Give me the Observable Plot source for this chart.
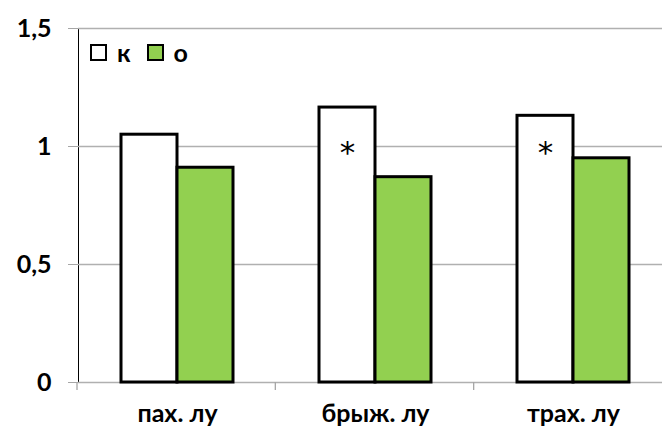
<!DOCTYPE html>
<html><head><meta charset="utf-8">
<script src="https://cdn.jsdelivr.net/npm/d3@7"></script>
<script src="https://cdn.jsdelivr.net/npm/@observablehq/plot@0.6"></script>
<style>
html,body{margin:0;padding:0;background:#fff;overflow:hidden}
#chart{position:relative;width:662px;height:433px;font-family:Lato,sans-serif}
#chart svg{overflow:hidden;display:block}
#chart svg [aria-label^="y-axis"] line,#chart svg [aria-label^="y-axis"] path{stroke:#a6a6a6}
.legend{position:absolute;left:90px;top:37px;display:flex;align-items:center;font:bold 25px Lato,sans-serif;color:#000}
.legend .item{display:flex;align-items:center;margin-right:16px}
.legend .sw{width:13px;height:13px;border:2.7px solid #000;display:inline-block;margin-right:10px}
</style></head><body><div id="chart"></div>
<script>
const categories = ["пах. лу", "брыж. лу", "трах. лу"];
const seriesNames = ["к", "о"];
const valuesK = [1.05, 1.165, 1.13];
const valuesO = [0.91, 0.87, 0.95];
const stars = ["", "*", "*"];
const starLevel = [null, 0.99, 0.99];
const yTicks = [0, 0.5, 1, 1.5];
const colors = ["#ffffff", "#92d050"];

const data = [];
categories.forEach((c, i) => {
  data.push({cat: c, series: seriesNames[0], value: valuesK[i], star: stars[i], starY: starLevel[i]});
  data.push({cat: c, series: seriesNames[1], value: valuesO[i], star: "", starY: null});
});

const plot = Plot.plot({
  width: 662,
  height: 433,
  marginTop: 28,
  marginBottom: 51,
  marginLeft: 77,
  marginRight: -10,
  style: {fontFamily: "Lato, sans-serif", fontSize: "25px", fontWeight: "bold", color: "#000", background: "#fff"},
  facet: {data, x: "cat"},
  fx: {domain: categories, padding: 0, label: null, tickSize: 0, tickPadding: 22, axis: "bottom"},
  x: {domain: seriesNames, paddingInner: 0, paddingOuter: 0.743, axis: null},
  y: {domain: [0, 1.5], ticks: yTicks, tickFormat: d => String(d).replace(".", ","), tickSize: 10, tickPadding: 17, label: null, line: true},
  color: {domain: seriesNames, range: colors},
  marks: [
    Plot.ruleY(yTicks, {stroke: "#b0b0b0", strokeWidth: 1.3}),
    Plot.barY(data, {x: "series", y: "value", fill: "series", stroke: "#000", strokeWidth: 3, inset: 0}),
    Plot.text(data, {filter: d => d.star, x: "series", y: "starY", text: "star", fontFamily: "DejaVu Sans", fontSize: 31, fontWeight: "normal", fill: "#000", lineAnchor: "middle", dy: 4})
  ]
});

// category boundary tick marks below the baseline (Excel style)
const fx = plot.scale("fx");
const ys = plot.scale("y");
const yScale = d3.scaleLinear(ys.domain, ys.range);
const step = (fx.range[1] - fx.range[0]) / fx.domain.length;
const bounds = d3.range(fx.domain.length + 1).map(i => fx.range[0] + i * step);
d3.select(plot).append("g")
  .selectAll("line").data(bounds).join("line")
  .attr("x1", d => d).attr("x2", d => d)
  .attr("y1", yScale(0)).attr("y2", yScale(0) + 8)
  .attr("stroke", "#a6a6a6").attr("stroke-width", 1.3);

const chart = document.getElementById("chart");
chart.appendChild(plot);

const cScale = d3.scaleOrdinal(plot.scale("color").domain, plot.scale("color").range);
const legend = document.createElement("div");
legend.className = "legend";
seriesNames.forEach(s => {
  const item = document.createElement("span");
  item.className = "item";
  const sw = document.createElement("span");
  sw.className = "sw";
  sw.style.background = cScale(s);
  item.appendChild(sw);
  item.appendChild(document.createTextNode(s));
  legend.appendChild(item);
});
chart.appendChild(legend);
</script></body></html>
